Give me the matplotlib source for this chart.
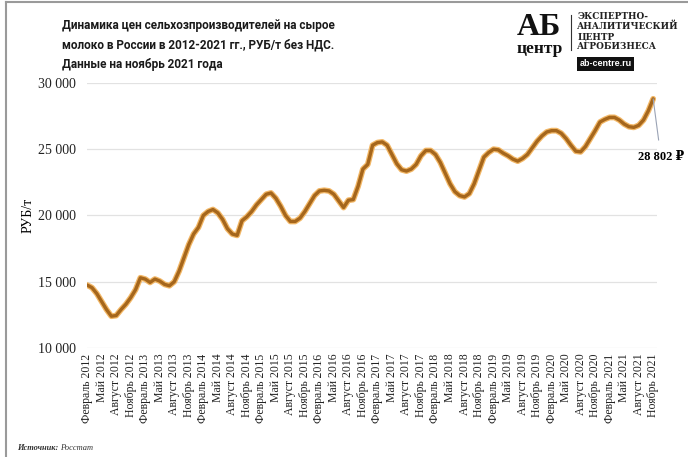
import matplotlib.pyplot as plt
from matplotlib.ticker import FuncFormatter

# monthly prices, February 2012 .. November 2021 (RUB per tonne)
months = ["Январь", "Февраль", "Март", "Апрель", "Май", "Июнь", "Июль",
          "Август", "Сентябрь", "Октябрь", "Ноябрь", "Декабрь"]
start_year = 2012
start_month = 2

p2012 = [14750, 14550, 14100, 13500, 12900, 12400, 12450, 12900, 13300, 13800, 14400]
p2013 = [15300, 15200, 14950, 15200, 15050, 14800, 14700, 15000, 15800, 16800, 17800, 18600]
p2014 = [19100, 20000, 20300, 20450, 20200, 19700, 19000, 18600, 18500, 19600, 19900, 20300]
p2015 = [20800, 21200, 21600, 21700, 21300, 20700, 20000, 19550, 19550, 19800, 20300, 20900]
p2016 = [21500, 21850, 21900, 21850, 21600, 21100, 20600, 21150, 21200, 22200, 23500, 23850]
p2017 = [25300, 25500, 25550, 25300, 24600, 23900, 23450, 23350, 23500, 23850, 24500, 24900]
p2018 = [24900, 24600, 24000, 23200, 22400, 21800, 21500, 21400, 21650, 22400, 23400, 24400]
p2019 = [24750, 25000, 24950, 24700, 24500, 24250, 24100, 24300, 24600, 25100, 25600, 26000]
p2020 = [26300, 26400, 26400, 26200, 25800, 25300, 24850, 24800, 25200, 25800, 26400, 27050]
p2021 = [27250, 27400, 27400, 27200, 26900, 26700, 26650, 26800, 27200, 27900, 28802]

prices = p2012 + p2013 + p2014 + p2015 + p2016 + p2017 + p2018 + p2019 + p2020 + p2021

labels = []
for i in range(len(prices)):
    m = (start_month - 1 + i) % 12
    y = start_year + (start_month - 1 + i) // 12
    labels.append(f"{months[m]} {y}")

last_label = "28 802 ₽"

fig = plt.figure(figsize=(6.88, 4.57), dpi=100)
ax = fig.add_axes([0.126, 0.2385, 0.829, 0.58])

x = list(range(len(prices)))
ax.plot(x, prices, color="#F2B766", linewidth=4.2, solid_capstyle="round", zorder=2)
ax.plot(x, prices, color="#A5661C", linewidth=2.4, solid_capstyle="round", zorder=3)

ax.set_ylim(10000, 30000)
ax.set_yticks([10000, 15000, 20000, 25000, 30000])
ax.yaxis.set_major_formatter(FuncFormatter(lambda v, p: f"{int(v):,}".replace(",", " ")))
ax.set_xlim(-0.1, 117.8)
ax.set_xticks(x[::3])
ax.set_xticklabels(labels[::3], rotation=90, fontsize=8.5, family="Liberation Serif")
for t in ax.get_yticklabels():
    t.set_family("Liberation Serif")
    t.set_fontsize(10)
ax.tick_params(length=0, colors="#222222")
ax.tick_params(axis="x", pad=4)
ax.tick_params(axis="y", pad=8)
ax.grid(axis="y", color="#E2E2E2", linewidth=0.9)
ax.set_axisbelow(True)
for s in ax.spines.values():
    s.set_visible(False)
ax.set_ylabel("РУБ/т", family="Liberation Serif", fontsize=10, labelpad=2)

# last value annotation
ax.annotate(last_label, xy=(x[-1], prices[-1]), xytext=(x[-1] + 1.6, 24400),
            ha="center", va="center", fontsize=9, fontweight="bold",
            family=["Liberation Serif", "DejaVu Serif"],
            arrowprops=dict(arrowstyle="-", color="#9AA3B5", linewidth=0.8,
                            shrinkA=6, shrinkB=0),
            annotation_clip=False)

# title
fig.text(0.09, 0.958,
         "Динамика цен сельхозпроизводителей на сырое\n"
         "молоко в России в 2012-2021 гг., РУБ/т без НДС.\n"
         "Данные на ноябрь 2021 года",
         ha="left", va="top", fontsize=8.5, fontweight="bold",
         family="Roboto", linespacing=1.65, color="#1a1a1a")

# logo
fig.text(0.751, 0.924, "АБ", fontsize=23, fontweight="bold", family="Liberation Serif",
         ha="left", va="baseline", color="#111111")
fig.text(0.751, 0.884, "центр", fontsize=12.5, fontweight="bold", family="Liberation Serif",
         ha="left", va="baseline", color="#111111")
fig.add_artist(plt.Line2D([0.830, 0.830], [0.891, 0.967], color="#333333", linewidth=0.8))
fig.text(0.839, 0.974, "ЭКСПЕРТНО-\nАНАЛИТИЧЕСКИЙ\nЦЕНТР\nАГРОБИЗНЕСА",
         fontsize=6.4, fontweight="bold", family="DejaVu Serif",
         ha="left", va="top", linespacing=1.12, color="#222222")
fig.text(0.880, 0.860, "ab-centre.ru", fontsize=6.5, fontweight="bold", family="Liberation Sans",
         ha="center", va="center", color="white",
         bbox=dict(boxstyle="square,pad=0.3", facecolor="#111111", edgecolor="none"))

# source
fig.text(0.025, 0.012, "Источник:", fontsize=6, style="italic", fontweight="bold",
         family="Liberation Serif", ha="left", va="bottom", color="#333333")
fig.text(0.088, 0.012, "Росстат", fontsize=6, style="italic",
         family="Liberation Serif", ha="left", va="bottom", color="#333333")

# frame
fig.add_artist(plt.Line2D([0.008, 0.008], [0.0, 0.995], color="#9a9a9a", linewidth=1.5))
fig.add_artist(plt.Line2D([0.008, 1.0], [0.995, 0.995], color="#9a9a9a", linewidth=1.5))

fig.savefig("out.png", dpi=100)
